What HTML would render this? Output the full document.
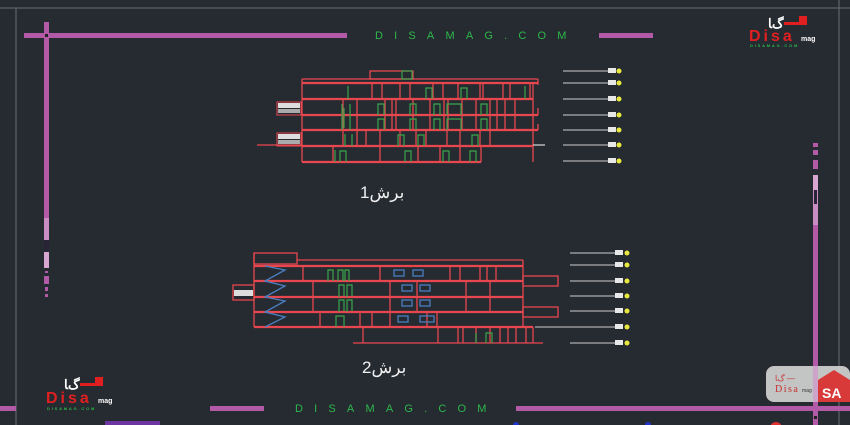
<!DOCTYPE html>
<html><head><meta charset="utf-8"><style>
html,body{margin:0;padding:0;background:#262a31;}
svg{display:block}
</style></head><body>
<svg width="850" height="425" viewBox="0 0 850 425" xmlns="http://www.w3.org/2000/svg">
<rect width="850" height="425" fill="#262a31"/>
<line x1="0" y1="8" x2="850" y2="8" stroke="#6a6e75" stroke-width="1"/>
<line x1="16" y1="8" x2="16" y2="425" stroke="#6a6e75" stroke-width="1"/>
<line x1="839" y1="0" x2="839" y2="425" stroke="#6a6e75" stroke-width="1"/>
<g fill="#b25aa8">
<rect x="24" y="33" width="323" height="5"/>
<rect x="599" y="33" width="54" height="5"/>
<rect x="44" y="22" width="5" height="196"/>
<rect x="44" y="218" width="5" height="22" fill="#c98cc3"/>
<rect x="44" y="240" width="5" height="10" fill="#2a2236"/>
<rect x="44" y="252" width="5" height="16" fill="#d7a7d2"/>
<rect x="45" y="271" width="3" height="2"/>
<rect x="44" y="276" width="5" height="8"/>
<rect x="45" y="287" width="3" height="4"/>
<rect x="45" y="294" width="3" height="3"/>
<rect x="813" y="143" width="5" height="4"/>
<rect x="813" y="150" width="5" height="5"/>
<rect x="813" y="160" width="5" height="9"/>
<rect x="813" y="175" width="5" height="15" fill="#d7a7d2"/>
<rect x="813" y="190" width="5" height="35" fill="#c98cc3"/>
<rect x="813" y="225" width="5" height="200"/>
<rect x="0" y="406" width="16" height="5"/>
<rect x="210" y="406" width="54" height="5"/>
<rect x="516" y="406" width="334" height="5"/>
</g>
<rect x="45" y="34" width="3" height="3" fill="#222"/>
<rect x="814" y="190" width="3" height="14" fill="#2a2236"/>
<rect x="814" y="416" width="3" height="3" fill="#222"/>
<text x="375" y="39" font-family="Liberation Sans, sans-serif" font-size="11" fill="#2db84a" letter-spacing="11.2">DISAMAG.COM</text>
<text x="295" y="412" font-family="Liberation Sans, sans-serif" font-size="11" fill="#2db84a" letter-spacing="11.2">DISAMAG.COM</text>

<!-- top-right logo -->
<g font-family="Liberation Sans, sans-serif" font-weight="bold">
<text x="768" y="28" font-size="13" fill="#ffffff">ﮒﺎ</text><rect x="784" y="22" width="16" height="3" fill="#e02020"/><rect x="799" y="16" width="8" height="9" fill="#e02020"/>
<text x="749" y="41" font-size="16" fill="#e02020" letter-spacing="3">Disa</text>
<text x="801" y="41" font-size="7" fill="#fff">mag</text>
<text x="750" y="47" font-size="4" fill="#2db84a" letter-spacing="1.8">DISAMAG.COM</text>
</g>
<!-- bottom-left logo -->
<g font-family="Liberation Sans, sans-serif" font-weight="bold">
<text x="64" y="389" font-size="13" fill="#ffffff">ﮒﺎ</text><rect x="80" y="383" width="16" height="3" fill="#e02020"/><rect x="95" y="377" width="8" height="9" fill="#e02020"/>
<text x="46" y="403" font-size="16" fill="#e02020" letter-spacing="3">Disa</text>
<text x="98" y="403" font-size="7" fill="#fff">mag</text>
<text x="47" y="410" font-size="4" fill="#2db84a" letter-spacing="1.8">DISAMAG.COM</text>
</g>
<!-- bottom-right logo box -->
<rect x="766" y="366" width="84" height="36" rx="8" fill="#d5d5d5" opacity="0.9"/>
<rect x="813" y="366" width="5" height="36" fill="#c98cc3" opacity="0.6"/>
<text x="775" y="381" font-size="8" fill="#c83030" font-family="Liberation Sans, sans-serif">ﮒﺎ —</text>
<text x="775" y="392" font-size="10" fill="#c83030" font-family="Liberation Serif, serif" letter-spacing="1.5">Disa</text>
<text x="802" y="392" font-size="5" fill="#333" font-family="Liberation Sans, sans-serif">mag</text>
<path d="M818 380 L834 370 L850 380 L850 402 L818 402 Z" fill="#d83a3a"/>
<text x="822" y="398" font-size="14" font-weight="bold" fill="#fff" font-family="Liberation Sans, sans-serif">SA</text>
<rect x="105" y="421" width="55" height="4" fill="#8a3ad0" opacity="0.7"/>
<circle cx="516" cy="425" r="3" fill="#2233cc"/><circle cx="648" cy="425" r="3" fill="#2233cc"/><circle cx="776" cy="428" r="6" fill="#e03030"/>

<!-- SECTION 1 -->
<g stroke="#e8474f" stroke-width="1.3" fill="none">
<rect x="370" y="71" width="43" height="8"/>
<line x1="302" y1="79" x2="538" y2="79"/>
<line x1="538" y1="79" x2="538" y2="85"/>
<line x1="302" y1="79" x2="302" y2="162"/>
<line x1="533" y1="83" x2="533" y2="162"/>
<g stroke-width="2.2">
<line x1="302" y1="83" x2="538" y2="83"/>
<line x1="302" y1="99" x2="533" y2="99"/>
<line x1="302" y1="115" x2="538" y2="115"/>
<line x1="302" y1="130" x2="538" y2="130"/>
<line x1="302" y1="146" x2="533" y2="146"/>
<line x1="302" y1="162" x2="481" y2="162"/>
</g>
<line x1="481" y1="146" x2="481" y2="162"/>
<line x1="257" y1="145" x2="302" y2="145"/>
<line x1="533" y1="145" x2="545" y2="145" stroke="#ccc"/>
<line x1="538" y1="108" x2="538" y2="115"/><line x1="538" y1="124" x2="538" y2="130"/>
<path d="M372 83V99 M382 83V99 M400 83V99 M410 83V99 M433 83V99 M443 83V99 M458 83V99 M480 83V99 M483 83V99 M503 83V99 M510 83V99 M530 83V99
M343 99V130 M357 99V130 M385 99V130 M392 99V130 M396 99V130 M413 99V130 M430 99V130 M444 99V130 M448 99V130 M462 99V130 M476 99V130 M490 99V130 M497 99V130 M505 99V130 M515 99V130
M343 130V146 M357 130V146 M366 130V146 M380 130V146 M400 130V146 M416 130V146 M426 130V146 M447 130V146 M460 130V146 M480 130V146 M490 130V146
M333 146V162 M380 146V162 M418 146V162 M440 146V162 M460 146V162"/>
</g>
<g stroke="#3aa64a" stroke-width="1.2" fill="none">
<rect x="402" y="71" width="10" height="8"/>
<path d="M348 99V86 M426 99V88h6v11 M461 99V88h6v11 M525 99V86 M342 130V104 M350 130V104 M344 108v20 M378 115V104h6v11 M410 115V104h6v11 M434 115V104h6v11 M447 115V104h14v11 M481 115V104h6v11 M378 130V119h6v11 M410 130V119h6v11 M434 130V119h6v11 M447 130V119h14v11 M481 130V119h6v11 M345 146V134 M352 146V134 M398 146V135h6v11 M418 146V135h6v11 M472 146V135h6v11 M335 162V150 M340 162V151h6v11 M405 162V151h6v11 M443 162V151h6v11 M470 162V151h6v11"/>
</g>
<g><rect x="277" y="102" width="24" height="13" fill="none" stroke="#e8474f"/><rect x="278" y="103" width="22" height="5" fill="#ddd"/><rect x="278" y="109" width="22" height="4" fill="#aaa"/>
<rect x="277" y="133" width="24" height="13" fill="none" stroke="#e8474f"/><rect x="278" y="134" width="22" height="5" fill="#ddd"/><rect x="278" y="140" width="22" height="4" fill="#aaa"/></g>
<g stroke="#cfcfcf" stroke-width="1">
<line x1="563" y1="71" x2="608" y2="71"/><line x1="563" y1="83" x2="608" y2="83"/><line x1="563" y1="99" x2="608" y2="99"/><line x1="563" y1="115" x2="608" y2="115"/><line x1="563" y1="130" x2="608" y2="130"/><line x1="563" y1="145" x2="608" y2="145"/><line x1="563" y1="161" x2="608" y2="161"/>
</g>
<g fill="#e8e8e8"><rect x="608" y="68" width="8" height="5"/><rect x="608" y="80" width="8" height="5"/><rect x="608" y="96" width="8" height="5"/><rect x="608" y="112" width="8" height="5"/><rect x="608" y="127" width="8" height="5"/><rect x="608" y="142" width="8" height="5"/><rect x="608" y="158" width="8" height="5"/></g>
<g fill="#e8e840"><circle cx="619" cy="71" r="2.5"/><circle cx="619" cy="83" r="2.5"/><circle cx="619" cy="99" r="2.5"/><circle cx="619" cy="115" r="2.5"/><circle cx="619" cy="130" r="2.5"/><circle cx="619" cy="145" r="2.5"/><circle cx="619" cy="161" r="2.5"/></g>
<text x="360" y="198" font-family="Liberation Sans, 'Noto Sans CJK SC', sans-serif" font-size="17" fill="#f0f0f0">برش1</text>

<!-- SECTION 2 -->
<g stroke="#e8474f" stroke-width="1.3" fill="none">
<rect x="254" y="253" width="43" height="11"/>
<line x1="297" y1="260" x2="523" y2="260"/>
<line x1="254" y1="253" x2="254" y2="327"/>
<line x1="523" y1="260" x2="523" y2="327"/>
<g stroke-width="2.2">
<line x1="254" y1="266" x2="523" y2="266"/>
<line x1="254" y1="281" x2="523" y2="281"/>
<line x1="254" y1="297" x2="523" y2="297"/>
<line x1="254" y1="312" x2="523" y2="312"/>
<line x1="254" y1="327" x2="533" y2="327"/>
</g>
<line x1="353" y1="343" x2="543" y2="343"/>
<line x1="363" y1="327" x2="363" y2="343"/><line x1="533" y1="327" x2="533" y2="343"/>
<path d="M438 327V343 M458 327V343 M463 327V343 M476 327V343 M490 327V343 M500 327V343 M508 327V343 M516 327V343 M526 327V343"/>
<rect x="523" y="276" width="35" height="10"/><rect x="523" y="307" width="35" height="10"/>
<rect x="233" y="285" width="21" height="15"/>
<path d="M303 266V281 M380 266V281 M450 266V281 M460 266V281 M480 266V281 M487 266V281 M496 266V281
M313 281V297 M390 281V297 M417 281V297 M466 281V297 M490 281V297
M313 297V312 M390 297V312 M417 297V312 M466 297V312 M490 297V312
M320 312V327 M360 312V327 M372 312V327 M390 312V327 M427 312V327 M437 312V327"/>
</g>
<g stroke="#4a7fc0" stroke-width="1.3" fill="none">
<path d="M265 266 L285 270 L265 281 L285 286 L265 297 L285 301 L265 312 L285 317 L265 327"/>
<rect x="394" y="270" width="10" height="6"/><rect x="413" y="270" width="10" height="6"/>
<rect x="402" y="285" width="10" height="6"/><rect x="420" y="285" width="10" height="6"/>
<rect x="402" y="300" width="10" height="6"/><rect x="420" y="300" width="10" height="6"/>
<rect x="398" y="316" width="10" height="6"/><rect x="420" y="316" width="14" height="6"/>
</g>
<g stroke="#3aa64a" stroke-width="1.2" fill="none">
<path d="M328 281V270h5v11 M338 281V270h5v11 M345 281V270h4v11 M339 297V285h5v11 M347 297V285h5v11 M339 312V300h5v11 M347 312V300h5v11 M336 327V316h8v11 M476 343V333 M486 343V333h6v10"/>
</g>
<rect x="234" y="290" width="19" height="6" fill="#ddd"/>
<g stroke="#cfcfcf" stroke-width="1">
<line x1="570" y1="253" x2="615" y2="253"/><line x1="570" y1="265" x2="615" y2="265"/><line x1="570" y1="281" x2="615" y2="281"/><line x1="570" y1="296" x2="615" y2="296"/><line x1="570" y1="311" x2="615" y2="311"/><line x1="535" y1="327" x2="615" y2="327"/><line x1="570" y1="343" x2="615" y2="343"/>
</g>
<g fill="#e8e8e8"><rect x="615" y="250" width="8" height="5"/><rect x="615" y="262" width="8" height="5"/><rect x="615" y="278" width="8" height="5"/><rect x="615" y="293" width="8" height="5"/><rect x="615" y="308" width="8" height="5"/><rect x="615" y="324" width="8" height="5"/><rect x="615" y="340" width="8" height="5"/></g>
<g fill="#e8e840"><circle cx="627" cy="253" r="2.5"/><circle cx="627" cy="265" r="2.5"/><circle cx="627" cy="281" r="2.5"/><circle cx="627" cy="296" r="2.5"/><circle cx="627" cy="311" r="2.5"/><circle cx="627" cy="327" r="2.5"/><circle cx="627" cy="343" r="2.5"/></g>
<text x="362" y="373" font-family="Liberation Sans, 'Noto Sans CJK SC', sans-serif" font-size="17" fill="#f0f0f0">برش2</text>
</svg>
</body></html>
